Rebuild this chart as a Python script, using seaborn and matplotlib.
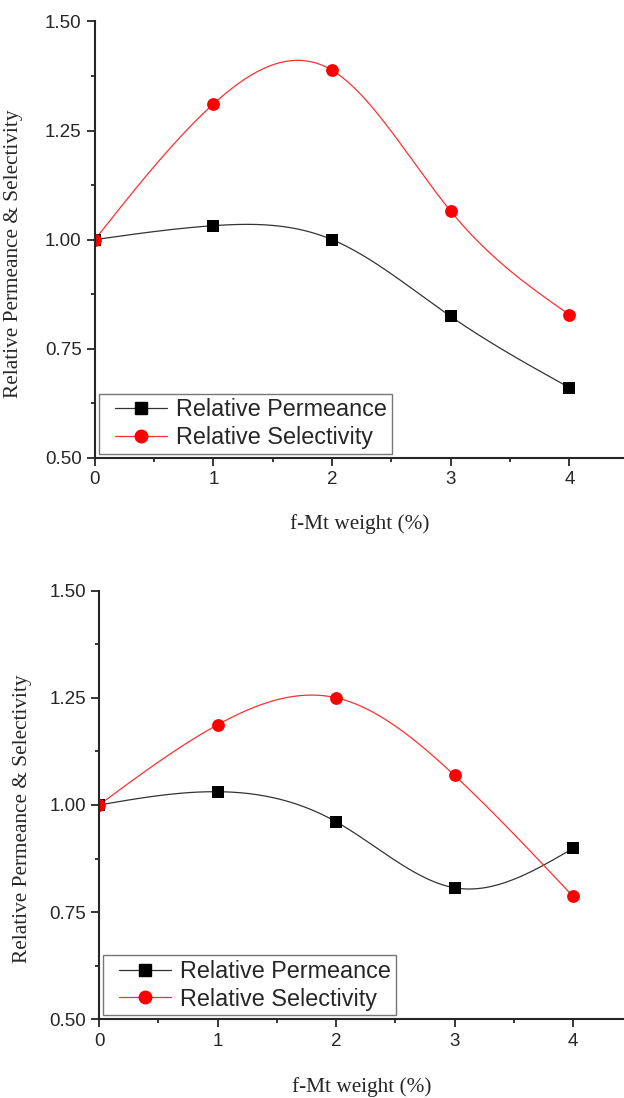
import numpy as np
import pandas as pd
import seaborn as sns
import matplotlib.pyplot as plt
from matplotlib.lines import Line2D
from matplotlib.legend_handler import HandlerLine2D
from matplotlib.ticker import MultipleLocator, FormatStrFormatter

# f-Mt loading (wt %)
weight = [0, 1, 2, 3, 4]

# top panel
perm_top = [1.00, 1.032, 1.00, 0.824, 0.661]
sel_top = [1.00, 1.311, 1.388, 1.065, 0.828]

# bottom panel
perm_bot = [1.00, 1.031, 0.961, 0.807, 0.899]
sel_bot = [1.00, 1.187, 1.250, 1.069, 0.787]

labels = ["Relative Permeance", "Relative Selectivity"]


def natural_spline(x, y, xs):
    # plain natural cubic spline, like Origin's "spline" connect
    x = np.asarray(x, float)
    y = np.asarray(y, float)
    n = len(x)
    h = np.diff(x)
    A = np.zeros((n, n))
    b = np.zeros(n)
    A[0, 0] = A[-1, -1] = 1
    for i in range(1, n - 1):
        A[i, i - 1] = h[i - 1]
        A[i, i] = 2 * (h[i - 1] + h[i])
        A[i, i + 1] = h[i]
        b[i] = 6 * ((y[i + 1] - y[i]) / h[i] - (y[i] - y[i - 1]) / h[i - 1])
    M = np.linalg.solve(A, b)
    idx = np.clip(np.searchsorted(x, xs) - 1, 0, n - 2)
    x0, x1 = x[idx], x[idx + 1]
    hh = x1 - x0
    t0 = x1 - xs
    t1 = xs - x0
    return (M[idx] * t0**3 / (6 * hh) + M[idx + 1] * t1**3 / (6 * hh)
            + (y[idx] / hh - M[idx] * hh / 6) * t0
            + (y[idx + 1] / hh - M[idx + 1] * hh / 6) * t1)


sns.set_style("ticks")
plt.rcParams["font.family"] = ["Liberation Sans", "DejaVu Sans"]

fig = plt.figure(figsize=(6.24, 10.98), dpi=100)
ax1 = fig.add_axes([0.152, 0.583, 0.848, 0.3975])
ax2 = fig.add_axes([0.1587, 0.0715, 0.8413, 0.3907])

xs = np.linspace(0, 4, 300)

panels = [
    (ax1, perm_top, sel_top, 4.46, (-0.135, 0.467), (0.5, -0.129)),
    (ax2, perm_bot, sel_bot, 4.43, (-0.128, 0.467), (0.5, -0.134)),
]

for ax, perm, sel, xmax, ylab_pos, xlab_pos in panels:
    sns.lineplot(x=xs, y=natural_spline(weight, perm, xs), color="#333333", lw=0.9, ax=ax)
    sns.lineplot(x=xs, y=natural_spline(weight, sel, xs), color="#ff3030", lw=0.9, ax=ax)
    sns.scatterplot(x=weight, y=perm, marker="s", color="black", s=75,
                    edgecolor="black", linewidth=0, ax=ax, zorder=3)
    sns.scatterplot(x=weight, y=sel, marker="o", color="#ff0000", s=85,
                    edgecolor="#ff0000", linewidth=0, ax=ax, zorder=4)

    ax.set_xlim(0, xmax)
    ax.set_ylim(0.5, 1.5)
    ax.xaxis.set_major_locator(MultipleLocator(1))
    ax.xaxis.set_minor_locator(MultipleLocator(0.5))
    ax.yaxis.set_major_locator(MultipleLocator(0.25))
    ax.yaxis.set_minor_locator(MultipleLocator(0.125))
    ax.yaxis.set_major_formatter(FormatStrFormatter("%.2f"))
    ax.tick_params(which="major", length=6, width=1.3, labelsize=13.5, direction="out")
    ax.tick_params(which="minor", length=3, width=1.3, direction="out")
    for s in ["top", "right"]:
        ax.spines[s].set_visible(False)
    for s in ["left", "bottom"]:
        ax.spines[s].set_linewidth(1.5)
        ax.spines[s].set_zorder(5)

    ax.set_xlabel("f-Mt weight (%)", family="Liberation Serif", fontsize=15.3)
    ax.set_ylabel("Relative Permeance & Selectivity", family="Liberation Serif", fontsize=15.3)
    ax.yaxis.set_label_coords(*ylab_pos)
    ax.xaxis.set_label_coords(*xlab_pos)

    handles = [
        Line2D([], [], color="#333333", lw=0.9, marker="s", markersize=8, markerfacecolor="black",
               markeredgecolor="black"),
        Line2D([], [], color="#ff3030", lw=0.9, marker="o", markersize=9, markerfacecolor="#ff0000",
               markeredgecolor="#ff0000"),
    ]
    leg = ax.legend(handles, labels, loc="lower left", bbox_to_anchor=(0.0, 0.0),
                    fontsize=16.8, frameon=True, fancybox=False, handlelength=2.72,
                    borderpad=0.2, labelspacing=0.2, handletextpad=0.39, borderaxespad=0.18,
                    handler_map={Line2D: HandlerLine2D(xpad=0.49)})
    leg.get_frame().set_edgecolor("#555555")
    leg.get_frame().set_linewidth(1.0)

fig.savefig("out.png", dpi=100)
